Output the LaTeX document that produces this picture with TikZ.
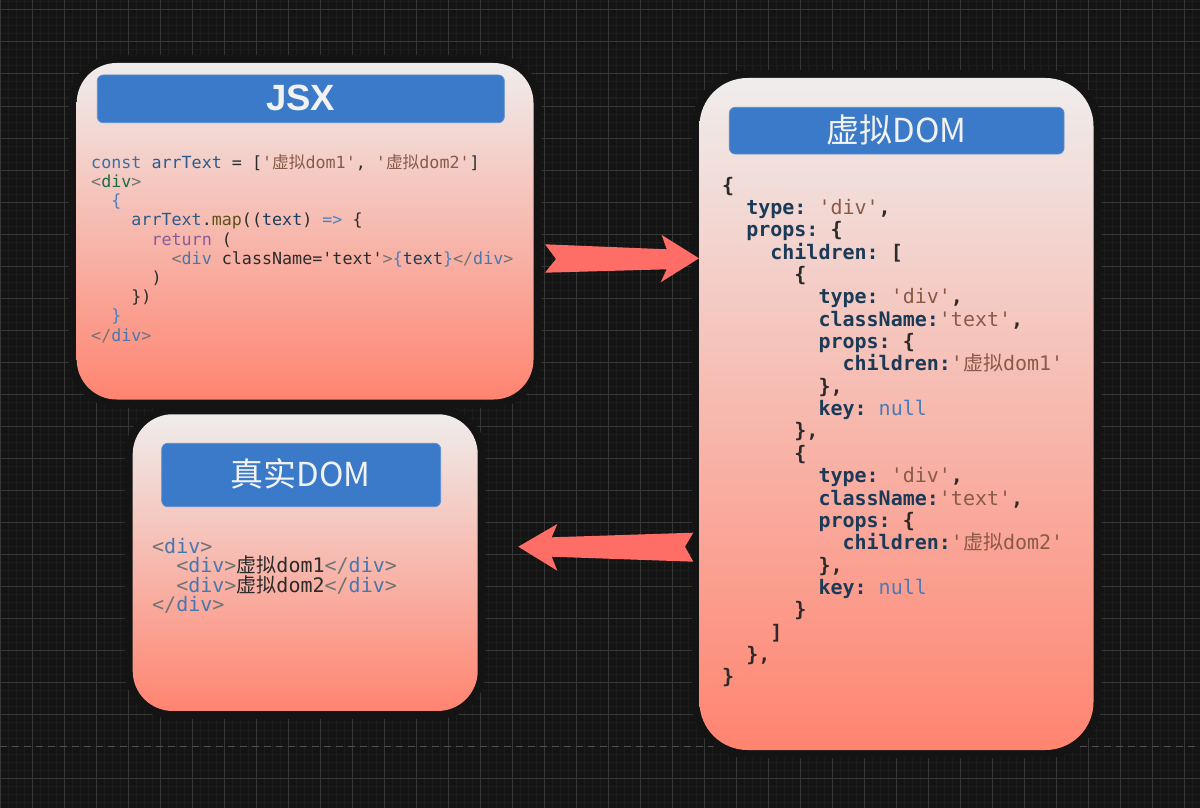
\documentclass[tikz,border=0pt]{standalone}
\usepackage{fontspec}
\setmonofont{DejaVu Sans Mono}
\newfontfamily\cjk{Noto Sans CJK SC}
\newfontfamily\headfont{Liberation Sans}

\definecolor{bgc}{HTML}{141414}
\definecolor{minorc}{HTML}{1D1D1D}
\definecolor{majorc}{HTML}{363636}
\definecolor{dashc}{HTML}{505050}
\definecolor{boxtop}{HTML}{EFEDEC}
\definecolor{boxmid}{HTML}{FFB9AE}
\definecolor{boxbot}{HTML}{FF8470}
\definecolor{barc}{HTML}{3B79C9}
\definecolor{bardraw}{HTML}{5A8FD4}
\definecolor{titlec}{HTML}{F2F2F2}
\definecolor{arrowc}{HTML}{FF6E66}
\definecolor{cdark}{HTML}{2B2B2B}
\definecolor{ckw}{HTML}{3A6EA5}
\definecolor{cvar}{HTML}{2B5B8C}
\definecolor{cstr}{HTML}{8A5A48}
\definecolor{cgray}{HTML}{727272}
\definecolor{cgreen}{HTML}{1E6B47}
\definecolor{ctag}{HTML}{4677B0}
\definecolor{cjsx}{HTML}{4A80C0}
\definecolor{cmeth}{HTML}{5E5217}
\definecolor{cparam}{HTML}{1C3D5C}
\definecolor{cret}{HTML}{8A5B96}
\definecolor{vkey}{HTML}{1B3A57}
\definecolor{cnull}{HTML}{4A7BB7}

\newcommand{\vk}[1]{\textcolor{vkey}{#1}}
\newcommand{\vstr}[1]{\textcolor{cstr}{\mdseries #1}}
\newcommand{\vnull}{\textcolor{cnull}{\mdseries null}}
\newcommand{\opendiv}{\textcolor{cgray}{<}\textcolor{ctag}{div}\textcolor{cgray}{>}}
\newcommand{\closediv}{\textcolor{cgray}{</}\textcolor{ctag}{div}\textcolor{cgray}{>}}

\def\jx{91}\def\jy{168.3}\def\jcw{10.05}\def\jls{19.2}
\def\vx{722}\def\vy{192}\def\vcw{12.04}\def\vls{22.36}
\def\rx{152}\def\ry{553}\def\rcw{12.04}\def\rls{19.5}

\tikzset{
  minorline/.style={draw=minorc, line width=1pt},
  majorline/.style={draw=majorc, line width=1pt},
  halo/.style={fill=bgc, draw=none, inner sep=0pt},
  panel/.style={draw=none, inner sep=0pt, top color=boxtop, middle color=boxmid, bottom color=boxbot},
  titlebar/.style={fill=barc, draw=bardraw, line width=0.8pt, rounded corners=6pt, inner sep=0pt},
  arrowshape/.style={fill=arrowc, draw=none},
  jsxcode/.style={anchor=base west, inner sep=0pt, text=cdark, font=\fontsize{16.7}{19.2}\selectfont\ttfamily},
  vcode/.style={anchor=base west, inner sep=0pt, text=cdark, font=\fontsize{20}{22}\selectfont\ttfamily\bfseries},
  rcode/.style={anchor=base west, inner sep=0pt, text=cdark, font=\fontsize{20}{22}\selectfont\ttfamily},
}

\begin{document}
\begin{tikzpicture}[x=1pt,y=-1pt]
\useasboundingbox (0,0) rectangle (1200,808);
\fill[bgc] (0,0) rectangle (1200,808);
% grid
\foreach \i in {0,8,...,1200} \draw[minorline] (\i,0) -- (\i,808);
\foreach \j in {2,10,...,802} \draw[minorline] (0,\j) -- (1200,\j);
\foreach \i in {0,32,...,1184} \draw[majorline] (\i,0) -- (\i,808);
\foreach \j in {10,42,...,714} \draw[majorline] (0,\j) -- (1200,\j);
\draw[majorline] (0,778) -- (1200,778);
\draw[draw=dashc, line width=1pt, dash pattern=on 7pt off 5pt] (0,746.5) -- (1200,746.5);

% halos
\node[halo, rounded corners=48pt, minimum width=472.8pt, minimum height=352.5pt] (jsxh) at (305.1,231.25) {};
\node[halo, rounded corners=56pt, minimum width=410pt, minimum height=688pt] (vdomh) at (896.5,414) {};
\node[halo, rounded corners=48pt, minimum width=361pt, minimum height=312.7pt] (rdomh) at (305.2,562.6) {};

% arrows
\fill[arrowshape] (545,244.3) -- (666.7,249.3) -- (661.7,235) -- (699,258.3) -- (660.7,282.3) -- (666.7,269.3) -- (545,272.7) -- (556,259) -- cycle;
\fill[arrowshape] (518.3,546.7) -- (557.3,524) -- (551.7,537.3) -- (693.3,532.7) -- (685,546.7) -- (693.3,561.7) -- (551.7,556.7) -- (557.3,570.7) -- cycle;

% panels
\node[panel, rounded corners=40pt, minimum width=456.8pt, minimum height=336.5pt] (jsx) at (305.1,231.25) {};
\node[panel, rounded corners=48pt, minimum width=394pt, minimum height=672pt] (vdom) at (896.5,414) {};
\node[panel, rounded corners=40pt, minimum width=345pt, minimum height=296.7pt] (rdom) at (305.2,562.6) {};

% title bars
\node[titlebar, minimum width=407pt, minimum height=47.7pt] (jt) at (300.8,98.85) {};
\node[titlebar, minimum width=334.7pt, minimum height=46.7pt] (vt) at (896.7,130.65) {};
\node[titlebar, minimum width=279pt, minimum height=63.4pt] (rt) at (301.2,475) {};
\node[anchor=base, inner sep=0pt, text=titlec, font=\headfont\bfseries\fontsize{36.5}{40}\selectfont] (jtt) at (300.5,110.7) {JSX};
\node[anchor=base, inner sep=0pt, text=titlec, font=\cjk\fontsize{33}{36}\selectfont] (vtt) at (896.5,142.3) {虚拟DOM};
\node[anchor=base, inner sep=0pt, text=titlec, font=\cjk\fontsize{33}{36}\selectfont] (rtt) at (300.5,486.7) {真实DOM};

% JSX code
\node[jsxcode] (j0) at ({\jx},{\jy}) {\textcolor{ckw}{const} \textcolor{cvar}{arrText} = [\textcolor{cstr}{'{\cjk 虚拟}dom1'}, \textcolor{cstr}{'{\cjk 虚拟}dom2'}]};
\node[jsxcode] (j1) at ({\jx},{\jy+1*\jls}) {\textcolor{cgray}{<}\textcolor{cgreen}{div}\textcolor{cgray}{>}};
\node[jsxcode] (j2) at ({\jx+2*\jcw},{\jy+2*\jls}) {\textcolor{cjsx}{\{}};
\node[jsxcode] (j3) at ({\jx+4*\jcw},{\jy+3*\jls}) {\textcolor{cvar}{arrText}.\textcolor{cmeth}{map}((\textcolor{cparam}{text}) \textcolor{cjsx}{=>} \{};
\node[jsxcode] (j4) at ({\jx+6*\jcw},{\jy+4*\jls}) {\textcolor{cret}{return} (};
\node[jsxcode] (j5) at ({\jx+8*\jcw},{\jy+5*\jls}) {\textcolor{cgray}{<}\textcolor{ctag}{div} className='text'\textcolor{cgray}{>}\textcolor{cjsx}{\{}\textcolor{cparam}{text}\textcolor{cjsx}{\}}\textcolor{cgray}{</}\textcolor{ctag}{div}\textcolor{cgray}{>}};
\node[jsxcode] (j6) at ({\jx+6*\jcw},{\jy+6*\jls}) {)};
\node[jsxcode] (j7) at ({\jx+4*\jcw},{\jy+7*\jls}) {\})};
\node[jsxcode] (j8) at ({\jx+2*\jcw},{\jy+8*\jls}) {\textcolor{cjsx}{\}}};
\node[jsxcode] (j9) at ({\jx},{\jy+9*\jls}) {\textcolor{cgray}{</}\textcolor{ctag}{div}\textcolor{cgray}{>}};

% Virtual DOM code
\node[vcode] (v0) at ({\vx},{\vy}) {\{};
\node[vcode] (v1) at ({\vx+2*\vcw},{\vy+1*\vls}) {\vk{type:} \vstr{'div'},};
\node[vcode] (v2) at ({\vx+2*\vcw},{\vy+2*\vls}) {\vk{props:} \{};
\node[vcode] (v3) at ({\vx+4*\vcw},{\vy+3*\vls}) {\vk{children:} [};
\node[vcode] (v4) at ({\vx+6*\vcw},{\vy+4*\vls}) {\{};
\node[vcode] (v5) at ({\vx+8*\vcw},{\vy+5*\vls}) {\vk{type:} \vstr{'div'},};
\node[vcode] (v6) at ({\vx+8*\vcw},{\vy+6*\vls}) {\vk{className:}\vstr{'text'},};
\node[vcode] (v7) at ({\vx+8*\vcw},{\vy+7*\vls}) {\vk{props:} \{};
\node[vcode] (v8) at ({\vx+10*\vcw},{\vy+8*\vls}) {\vk{children:}\vstr{'{\cjk 虚拟}dom1'}};
\node[vcode] (v9) at ({\vx+8*\vcw},{\vy+9*\vls}) {\},};
\node[vcode] (v10) at ({\vx+8*\vcw},{\vy+10*\vls}) {\vk{key:} \vnull};
\node[vcode] (v11) at ({\vx+6*\vcw},{\vy+11*\vls}) {\},};
\node[vcode] (v12) at ({\vx+6*\vcw},{\vy+12*\vls}) {\{};
\node[vcode] (v13) at ({\vx+8*\vcw},{\vy+13*\vls}) {\vk{type:} \vstr{'div'},};
\node[vcode] (v14) at ({\vx+8*\vcw},{\vy+14*\vls}) {\vk{className:}\vstr{'text'},};
\node[vcode] (v15) at ({\vx+8*\vcw},{\vy+15*\vls}) {\vk{props:} \{};
\node[vcode] (v16) at ({\vx+10*\vcw},{\vy+16*\vls}) {\vk{children:}\vstr{'{\cjk 虚拟}dom2'}};
\node[vcode] (v17) at ({\vx+8*\vcw},{\vy+17*\vls}) {\},};
\node[vcode] (v18) at ({\vx+8*\vcw},{\vy+18*\vls}) {\vk{key:} \vnull};
\node[vcode] (v19) at ({\vx+6*\vcw},{\vy+19*\vls}) {\}};
\node[vcode] (v20) at ({\vx+4*\vcw},{\vy+20*\vls}) {]};
\node[vcode] (v21) at ({\vx+2*\vcw},{\vy+21*\vls}) {\},};
\node[vcode] (v22) at ({\vx},{\vy+22*\vls}) {\}};

% Real DOM code
\node[rcode] (r0) at ({\rx},{\ry}) {\opendiv};
\node[rcode] (r1) at ({\rx+2*\rcw},{\ry+1*\rls}) {\opendiv{\cjk 虚拟}dom1\closediv};
\node[rcode] (r2) at ({\rx+2*\rcw},{\ry+2*\rls}) {\opendiv{\cjk 虚拟}dom2\closediv};
\node[rcode] (r3) at ({\rx},{\ry+3*\rls}) {\closediv};
\end{tikzpicture}
\end{document}
